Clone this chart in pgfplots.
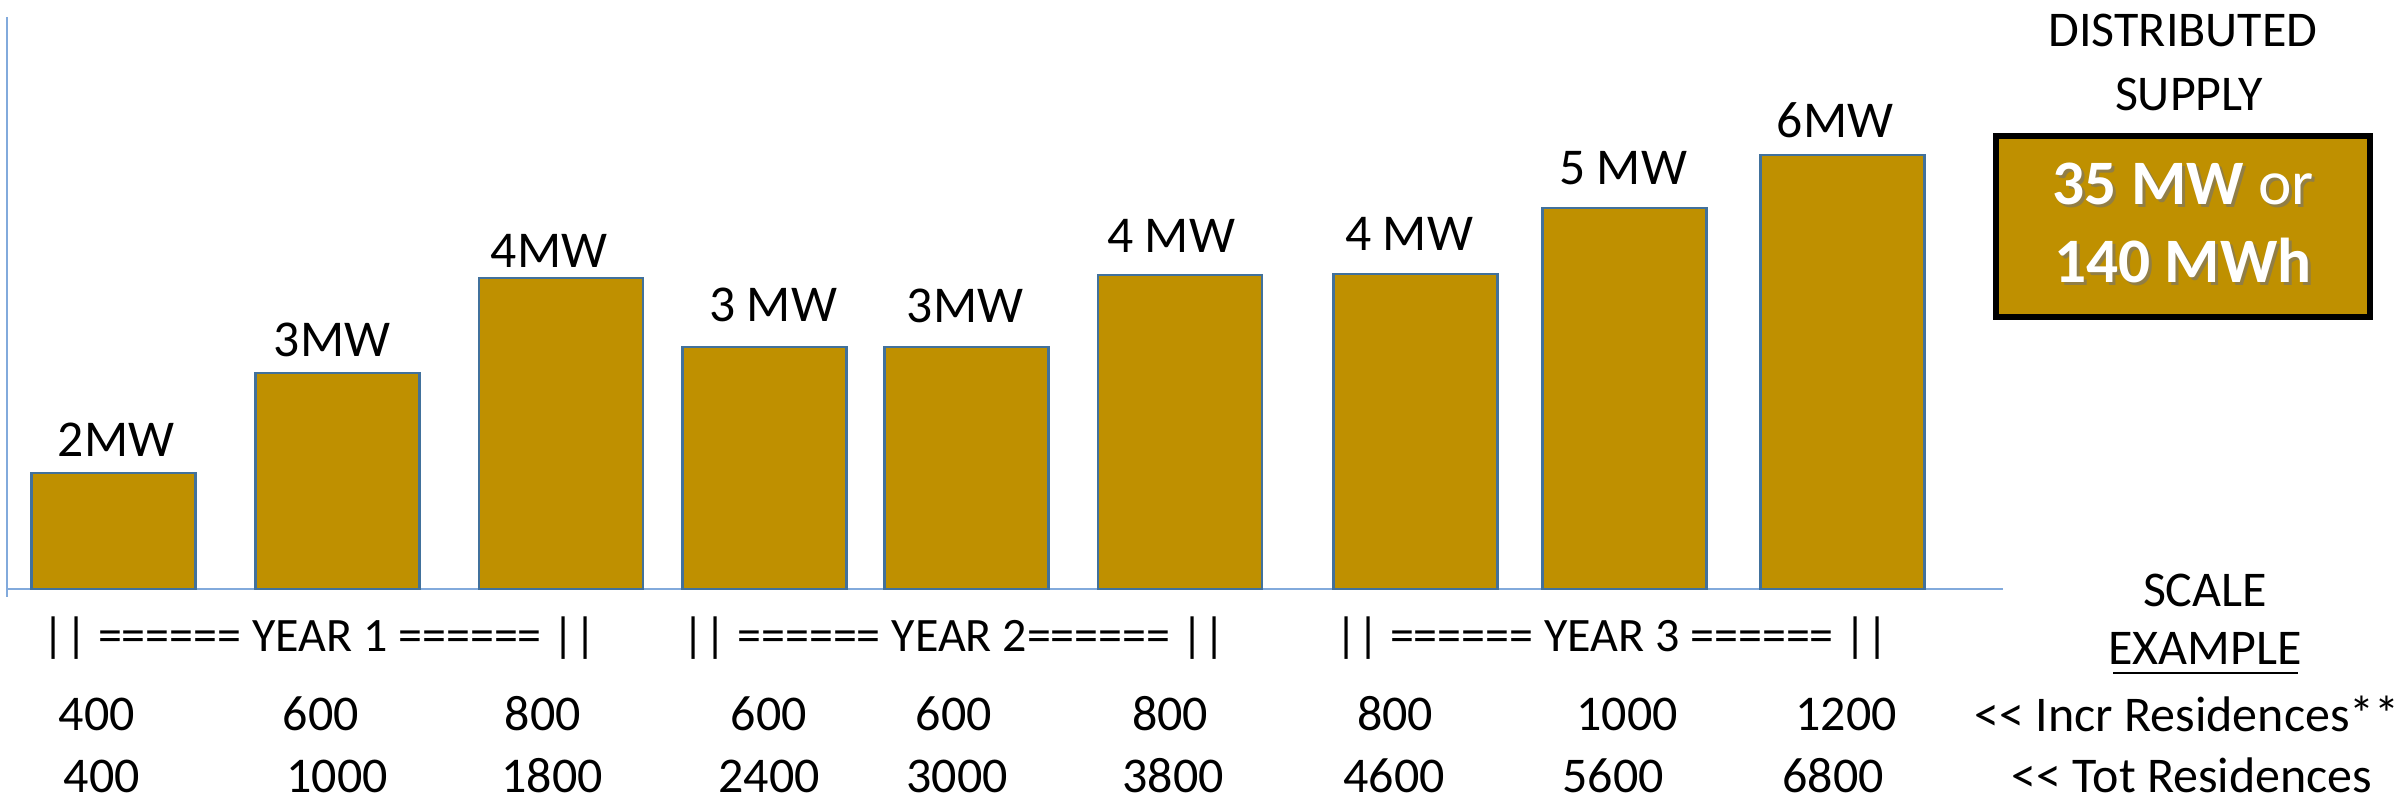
\documentclass[border=0pt]{standalone}
\usepackage{pgfplots}
\pgfplotsset{compat=1.18}
\usepackage{fontspec}
\setmainfont[Ligatures=NoCommon]{Carlito}
\definecolor{gold}{RGB}{191,144,0}
\definecolor{barline}{RGB}{65,113,156}
\definecolor{axline}{RGB}{130,170,220}
\newcommand{\lbl}{\fontsize{15}{18}\selectfont}
\tikzset{tx/.style={anchor=base, inner sep=0pt, font=\lbl}}
\begin{document}
\begin{tikzpicture}
\begin{axis}[
  scale only axis, width=720pt, height=240.6pt,
  xmin=0, xmax=2400, ymin=-213, ymax=589,
  hide axis, clip=false,
]
% axis lines
\addplot[axline, line width=0.6pt] coordinates {(7,572) (7,-8)};
\addplot[axline, line width=0.6pt] coordinates {(7,0) (2003,0)};
% bars
\addplot[ybar, bar width=164, fill=gold, draw=barline, line width=0.8pt] coordinates {
  (113.5,116) (337.5,216) (561,311) (764.5,242) (966.5,242)
  (1180,314) (1415.5,315) (1624.5,381) (1842.5,434)};
% bar labels
\addplot[draw=none, mark=none, nodes near coords, point meta=explicit symbolic,
  every node near coord/.style={anchor=base, inner sep=0pt, font=\fontsize{15.5}{18}\selectfont, text=black}]
  coordinates {
  (116,132) [2MW] (332,232) [3MW] (549,321) [4MW] (773,267) [3 MW] (965,266) [3MW]
  (1171,336) [4 MW] (1409,338) [4 MW] (1623,404) [5 MW] (1835,451) [6MW]};
% year row
\node[tx, font=\fontsize{14.4}{17}\selectfont] at (axis cs:320,-63) {|| ====== YEAR 1 ====== ||};
\node[tx, font=\fontsize{14.4}{17}\selectfont] at (axis cs:954,-63) {|| ====== YEAR 2====== ||};
\node[tx, font=\fontsize{14.4}{17}\selectfont] at (axis cs:1612,-63) {|| ====== YEAR 3 ====== ||};
% incremental residences
\node[tx] at (axis cs:97,-142) {400};
\node[tx] at (axis cs:321,-142) {600};
\node[tx] at (axis cs:543,-142) {800};
\node[tx] at (axis cs:769,-142) {600};
\node[tx] at (axis cs:954,-142) {600};
\node[tx] at (axis cs:1170,-142) {800};
\node[tx] at (axis cs:1395,-142) {800};
\node[tx] at (axis cs:1627,-142) {1000};
\node[tx] at (axis cs:1846,-142) {1200};
% total residences
\node[tx] at (axis cs:102,-204) {400};
\node[tx] at (axis cs:337,-204) {1000};
\node[tx] at (axis cs:552,-204) {1800};
\node[tx] at (axis cs:769,-204) {2400};
\node[tx] at (axis cs:957,-204) {3000};
\node[tx] at (axis cs:1173,-204) {3800};
\node[tx] at (axis cs:1394,-204) {4600};
\node[tx] at (axis cs:1613,-204) {5600};
\node[tx] at (axis cs:1833,-204) {6800};
% right side
\node[tx] at (axis cs:2183,542) {DISTRIBUTED};
\node[tx] at (axis cs:2189,478) {SUPPLY};
\draw[fill=gold, draw=black, line width=1.8pt] (axis cs:1996,453) rectangle (axis cs:2370,272);
\node[anchor=base, inner sep=0pt, font=\fontsize{19}{22}\selectfont, text=black!55, opacity=0.6] at (axis cs:2186,381) {\textbf{35 MW} or};
\node[anchor=base, inner sep=0pt, font=\fontsize{19}{22}\selectfont, text=white] at (axis cs:2183,384) {\textbf{35 MW} or};
\node[anchor=base, inner sep=0pt, font=\fontsize{19}{22}\selectfont, text=black!55, opacity=0.6] at (axis cs:2186,303) {\textbf{140 MWh}};
\node[anchor=base, inner sep=0pt, font=\fontsize{19}{22}\selectfont, text=white] at (axis cs:2183,306) {\textbf{140 MWh}};
\node[tx] at (axis cs:2205,-18) {SCALE};
\node[tx] at (axis cs:2205,-76) {EXAMPLE};
\draw[black, line width=0.7pt] (axis cs:2113,-84) -- (axis cs:2298,-84);
\node[tx] at (axis cs:2187,-143) {{<}{<} Incr Residences**};
\node[tx] at (axis cs:2192,-204) {{<}{<} Tot Residences};
\coordinate (BL) at (axis cs:0,-213);
\coordinate (TR) at (axis cs:2400,589);
\end{axis}
\pgfresetboundingbox
\path[use as bounding box] (BL) rectangle (TR);
\end{tikzpicture}
\end{document}
